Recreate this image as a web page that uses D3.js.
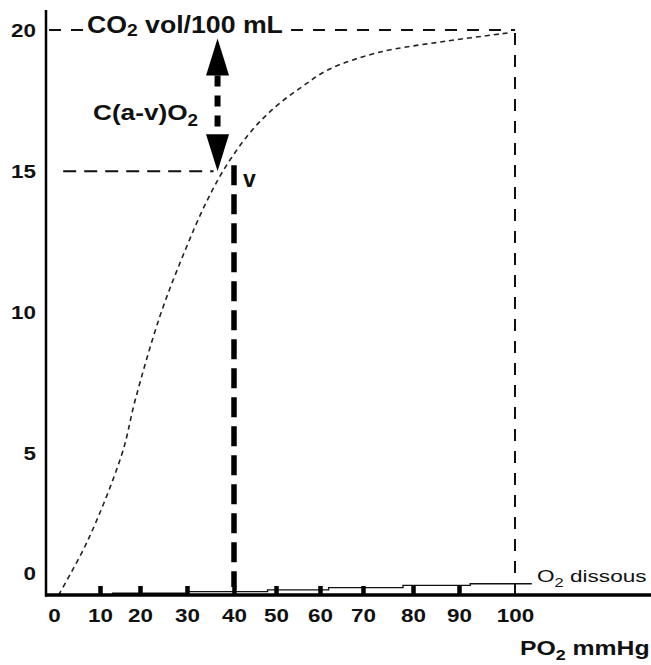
<!DOCTYPE html>
<html lang="fr">
<head>
<meta charset="UTF-8">
<title>Contenu en O2 et PO2</title>
<script src="https://d3js.org/d3.v7.min.js"></script>
<style>
    body { margin: 0; background: #fff; }
    svg text { font-family: "Liberation Sans", Arial, sans-serif; fill: #111; }
</style>
</head>
<body>
<svg id="chart" width="651" height="665"></svg>
<script>
// O2 content curve (vol/100 mL) against PO2 (mmHg)
const po2Values = [1, 7.4, 15.5, 18.8, 24.3, 29.6, 33.8, 38, 44, 50, 56, 62, 73, 87, 99];
const contentValues = [0, 1.95, 5, 6.9, 9.9, 12.2, 13.8, 15.1, 16.4, 17.3, 18, 18.6, 19.2, 19.6, 19.9];

// dissolved O2 (stepped thin line)
const dissousPO2 = [13, 30, 48, 62, 78, 92, 103];
const dissousValues = [0.06, 0.12, 0.18, 0.26, 0.34, 0.40, 0.40];

// axis ticks
const xTickValues = [0, 10, 20, 30, 40, 50, 60, 70, 80, 90, 100];
const yTickValues = [0, 5, 10, 15, 20];

// reference points: arterial (a) and venous (v)
const arterialPO2 = 100, arterialContent = 20;
const venousPO2 = 40, venousContent = 15;
const arrowPO2 = 36.5;   // where the C(a-v)O2 arrow stands

const svg = d3.select("#chart");

// hand drawn x axis: ticks are not evenly spaced in the original
const x = d3.scaleLinear()
    .domain(xTickValues)
    .range([54, 100, 140, 187, 234, 276, 320, 363, 413, 459, 515]);
const y = d3.scaleLinear().domain([0, 20]).range([595, 30]);

const axisX0 = 46, axisY0 = 595;

// text with subscripts, stretched a bit wider like the scan
function richText(parts, px, py, size, weight, sx, subShift) {
    const t = svg.append("text")
        .attr("transform", `translate(${px},${py}) scale(${sx},1)`)
        .style("font-size", size + "px")
        .style("font-weight", weight);
    let shift = 0;
    parts.forEach(p => {
        const s = p.sub ? subShift : 0;
        t.append("tspan").text(p.t)
            .attr("dy", s - shift)
            .style("font-size", p.sub ? (size * 0.72) + "px" : null);
        shift = s;
    });
    return t;
}

// dashed reference lines
svg.append("line")
    .attr("x1", axisX0 + 3).attr("x2", x(arterialPO2))
    .attr("y1", y(arterialContent)).attr("y2", y(arterialContent))
    .attr("stroke", "#111").attr("stroke-width", 2).attr("stroke-dasharray", "12,10");
svg.append("line")
    .attr("x1", x(arterialPO2)).attr("x2", x(arterialPO2))
    .attr("y1", y(arterialContent) + 3).attr("y2", axisY0)
    .attr("stroke", "#111").attr("stroke-width", 2).attr("stroke-dasharray", "12,10");
svg.append("line")
    .attr("x1", x(2)).attr("x2", x(arrowPO2) - 4)
    .attr("y1", y(venousContent)).attr("y2", y(venousContent))
    .attr("stroke", "#111").attr("stroke-width", 2).attr("stroke-dasharray", "13,8");

// title over the 20 line, on a white patch
const title = richText([{t: "CO"}, {t: "2", sub: true}, {t: " vol/100 mL"}], 87, 33, 23, "bold", 1.16, 3);
const tb = title.node().getBBox();
svg.insert("rect", "text")
    .attr("x", 85).attr("y", 13)
    .attr("width", tb.width * 1.16 + 4).attr("height", 24)
    .attr("fill", "#fff");

// O2 content curve (thin dashed)
const curvePts = po2Values.map((p, i) => [p, contentValues[i]]);
svg.append("path")
    .datum(curvePts)
    .attr("fill", "none")
    .attr("stroke", "#222")
    .attr("stroke-width", 1.6)
    .attr("stroke-dasharray", "5,4")
    .attr("d", d3.line().x(d => x(d[0])).y(d => y(d[1])).curve(d3.curveCatmullRom));

// dissolved O2 line
const dissPts = dissousPO2.map((p, i) => [p, dissousValues[i]]);
svg.append("path")
    .datum(dissPts)
    .attr("fill", "none")
    .attr("stroke", "#111")
    .attr("stroke-width", 1.4)
    .attr("d", d3.line().x(d => x(d[0])).y(d => y(d[1])).curve(d3.curveStepAfter));

// thick dashed line down from the venous point
svg.append("line")
    .attr("x1", x(venousPO2)).attr("x2", x(venousPO2))
    .attr("y1", y(venousContent) - 6).attr("y2", axisY0 - 8)
    .attr("stroke", "#000").attr("stroke-width", 5.5).attr("stroke-dasharray", "20,9");

// double arrow C(a-v)O2
const ax = x(arrowPO2);
const topTip = y(19.7), botTip = y(venousContent);
const headLen = 37, headW = 11.5;
svg.append("line")
    .attr("x1", ax).attr("x2", ax)
    .attr("y1", topTip + headLen).attr("y2", botTip - headLen)
    .attr("stroke", "#000").attr("stroke-width", 6).attr("stroke-dasharray", "11,9");
svg.append("path")
    .attr("d", `M${ax},${topTip}L${ax + headW},${topTip + headLen}L${ax - headW},${topTip + headLen}Z`)
    .attr("fill", "#000");
svg.append("path")
    .attr("d", `M${ax},${botTip}L${ax + headW},${botTip - headLen}L${ax - headW},${botTip - headLen}Z`)
    .attr("fill", "#000");

// axes
const xAxis = svg.append("g")
    .attr("transform", `translate(0,${axisY0})`)
    .call(d3.axisBottom(x).tickValues(xTickValues).tickSize(-9).tickPadding(14));
xAxis.select(".domain").remove();
xAxis.selectAll(".tick line")
    .attr("stroke", "#000").attr("stroke-width", 4.5)
    .style("display", d => (d === 0 || d === 100) ? "none" : null);
xAxis.selectAll(".tick text")
    .style("font-size", "19px").style("font-weight", "bold")
    .attr("fill", "#111").attr("transform", "scale(1.18,1)");

const yAxis = svg.append("g")
    .attr("transform", `translate(${axisX0},0)`)
    .call(d3.axisLeft(y).tickValues(yTickValues).tickSize(0).tickPadding(8.5));
yAxis.select(".domain").remove();
yAxis.selectAll(".tick text")
    .style("font-size", "19px").style("font-weight", "bold")
    .attr("fill", "#111")
    .attr("transform", d => d === 0 ? "translate(0,-22) scale(1.18,1)" : "scale(1.18,1)");

svg.append("line")
    .attr("x1", axisX0).attr("x2", axisX0)
    .attr("y1", 10).attr("y2", axisY0 + 1.5)
    .attr("stroke", "#000").attr("stroke-width", 2.5);
svg.append("line")
    .attr("x1", axisX0 - 1).attr("x2", 651)
    .attr("y1", axisY0).attr("y2", axisY0)
    .attr("stroke", "#000").attr("stroke-width", 3.5);

// labels
richText([{t: "C(a-v)O"}, {t: "2", sub: true}], 93, 120, 22, "bold", 1.19, 6);
richText([{t: "v"}], 243, 187, 23, "bold", 1, 0);
richText([{t: "O"}, {t: "2", sub: true}, {t: " dissous"}], 537, 582, 17, "normal", 1.33, 5);
richText([{t: "PO"}, {t: "2", sub: true}, {t: " mmHg"}], 520, 655, 21, "bold", 1.18, 5);
</script>
</body>
</html>
